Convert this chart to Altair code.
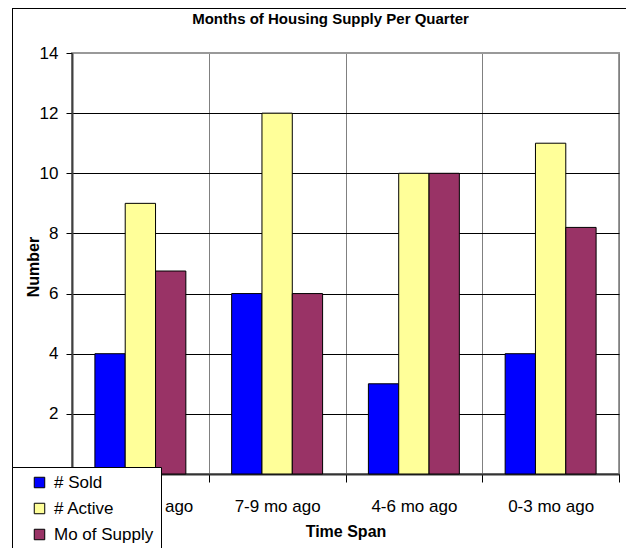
import altair as alt
import pandas as pd

categories = ["10-12 mo ago", "7-9 mo ago", "4-6 mo ago", "0-3 mo ago"]
series = ["# Sold", "# Active", "Mo of Supply"]
sold = [4, 6, 3, 4]
active = [9, 12, 10, 11]
supply = [6.75, 6, 10, 8.2]
colors = ["#0000FF", "#FFFF99", "#993366"]
y_ticks = [0, 2, 4, 6, 8, 10, 12, 14]

rows = []
for i, c in enumerate(categories):
    for s, vals in zip(series, [sold, active, supply]):
        rows.append({"span": c, "series": s, "value": vals[i]})
df = pd.DataFrame(rows)

FONT = "Liberation Sans"
W, H = 547, 421

bars = alt.Chart(df).mark_bar(stroke="black", strokeWidth=1).encode(
    x=alt.X(
        "span:N", sort=categories,
        scale=alt.Scale(paddingInner=0, paddingOuter=0),
        axis=alt.Axis(
            title="Time Span", tickBand="extent", grid=True, gridColor="#808080",
            gridWidth=1, domainColor="#333333", domainWidth=2, tickColor="black",
            tickSize=8, labelAngle=0, labelFontSize=17, labelFont=FONT,
            labelColor="black", labelPadding=16, titleFont=FONT, titleFontSize=16,
            titleFontWeight="bold", titleX=W / 2, titleY=57, titleBaseline="middle",
            titleColor="black",
        ),
    ),
    xOffset=alt.XOffset("series:N", sort=series,
                        scale=alt.Scale(paddingInner=0, paddingOuter=0.755)),
    y=alt.Y(
        "value:Q", scale=alt.Scale(domain=[0, 14], nice=False),
        axis=alt.Axis(
            values=y_ticks, title="Number", grid=True,
            gridColor={"condition": {"test": "datum.value === 14", "value": "#999999"},
                       "value": "black"},
            gridWidth=1, domainColor="#404040", domainWidth=2, tickColor="black",
            tickSize=6, labelFontSize=17, labelFont=FONT, labelColor="black",
            labelPadding=8, titleFont=FONT, titleFontSize=16, titleFontWeight="bold",
            titleColor="black", titleX=-39, titleY=H / 2 + 3, titleBaseline="middle",
        ),
    ),
    color=alt.Color(
        "series:N", sort=series,
        scale=alt.Scale(domain=series, range=colors),
        legend=alt.Legend(
            orient="none", legendX=-60, legendY=414, title=None,
            fillColor="white", strokeColor="black", padding=7, cornerRadius=0,
            symbolType="square", symbolSize=110, symbolStrokeColor="black",
            symbolStrokeWidth=1, symbolOffset=12, labelFont=FONT,
            labelFontSize=17, labelColor="black", labelOffset=6, rowPadding=8,
        ),
    ),
)

frame_df = pd.DataFrame({"k": [0]})
frame_left = alt.Chart(frame_df).mark_rule(color="black", strokeWidth=1).encode(
    x=alt.value(-59.5), y=alt.value(-44.5), y2=alt.value(520)
)
frame_top = alt.Chart(frame_df).mark_rule(color="black", strokeWidth=1).encode(
    x=alt.value(-60), x2=alt.value(560), y=alt.value(-44.5)
)

chart = alt.layer(bars, frame_left, frame_top).properties(
    width=W, height=H,
    autosize="none",
    padding={"left": 64, "top": 45, "right": 7, "bottom": 74},
    title=alt.TitleParams(
        "Months of Housing Supply Per Quarter", font=FONT, fontSize=15,
        fontWeight="bold", color="black", anchor="middle", frame="group",
        dx=-15, dy=23,
    ),
).configure_view(stroke="#999999", strokeWidth=2)

chart.save("out.html", embed_options={"renderer": "svg", "actions": False})
